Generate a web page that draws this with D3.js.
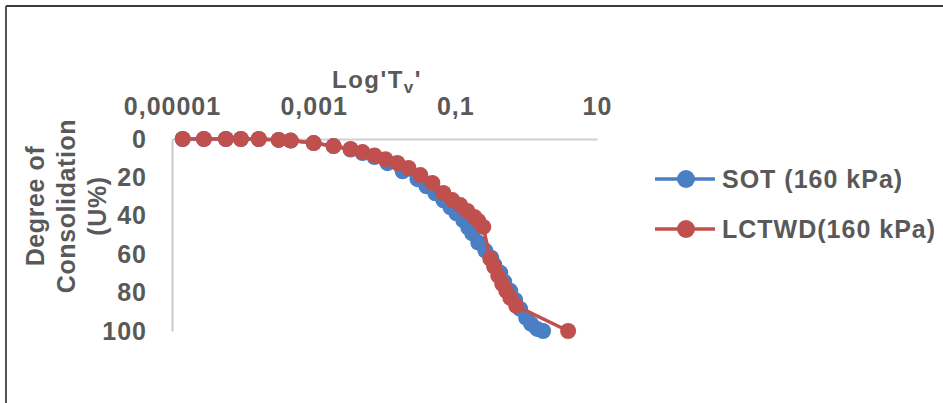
<!DOCTYPE html>
<html>
<head>
<meta charset="utf-8">
<script src="https://cdn.jsdelivr.net/npm/d3@7"></script>
<style>
  body { margin: 0; background: #fff; }
  text { font-family: "Liberation Sans", Arial, sans-serif; font-weight: bold; fill: #595959; }
</style>
</head>
<body>
<div id="chart"></div>
<script>
// time factor Tv (log) and degree of consolidation U%
var sotT = [1.416e-5, 2.82e-5, 5.76e-5, 9.37e-5, 1.68e-4, 3.21e-4, 4.74e-4, 1e-3, 1.91e-3, 3.32e-3,
    4.90e-3, 7.22e-3, 1.10e-2, 1.80e-2, 2.92e-2, 3.91e-2, 5.22e-2, 6.78e-2, 8.51e-2, 0.1033,
    0.1297, 0.1524, 0.1734, 0.211, 0.265, 0.321, 0.354, 0.431, 0.490, 0.596,
    0.700, 0.822, 1.0, 1.175, 1.429, 1.734];
var sotU = [0, 0, 0, 0, 0, 0.5, 0.8, 2.1, 3.7, 5.5,
    7.3, 9.4, 12.6, 16.8, 20.9, 24.6, 28.3, 31.9, 35.6, 38.7,
    42.4, 46.1, 49.2, 53.9, 58.1, 61.8, 65.4, 69.6, 74.3, 79.1,
    83.8, 88.5, 93.2, 96.3, 98.9, 100];

var lctT = [1.416e-5, 2.82e-5, 5.76e-5, 9.37e-5, 1.68e-4, 3.21e-4, 4.74e-4, 1e-3, 1.91e-3, 3.32e-3,
    4.90e-3, 7.22e-3, 1.03e-2, 1.52e-2, 2.18e-2, 3.21e-2, 4.74e-2, 6.78e-2, 9.08e-2, 0.1175,
    0.1476, 0.1854, 0.211, 0.2477, 0.311, 0.354, 0.404, 0.459, 0.523, 0.596,
    0.723, 3.91];
var lctU = [0, 0, 0, 0, 0, 0.5, 0.8, 2.1, 3.7, 5.2,
    6.8, 8.6, 10.5, 12.5, 15.1, 18.8, 22.9, 28.1, 31.8, 34.4,
    37.5, 40.6, 42.7, 45.8, 62.3, 66.5, 71.2, 75.4, 79.1, 82.7,
    86.9, 100];

var xTicks = [0.00001, 0.001, 0.1, 10];
var xTickLabels = ["0,00001", "0,001", "0,1", "10"];
var yTicks = [0, 20, 40, 60, 80, 100];
var seriesNames = ["SOT (160 kPa)", "LCTWD(160 kPa)"];
var seriesColors = ["#4a7fc4", "#c0504d"];

var width = 943, height = 403;

var svg = d3.select("#chart").append("svg")
    .attr("width", width)
    .attr("height", height);

// frame
svg.append("line").attr("x1", 6).attr("x2", width).attr("y1", 6).attr("y2", 6)
    .attr("stroke", "#3a3a3a").attr("stroke-width", 2);
svg.append("line").attr("x1", 6).attr("x2", 6).attr("y1", 6).attr("y2", height)
    .attr("stroke", "#555").attr("stroke-width", 2);

var x = d3.scaleLog().domain([1e-5, 10]).range([172, 597]);
var y = d3.scaleLinear().domain([0, 100]).range([139, 331]);

// x axis on top
var xAxis = svg.append("g")
    .attr("transform", "translate(0," + y(0) + ")")
    .call(d3.axisTop(x).tickValues(xTicks)
        .tickFormat(function(d, i) { return xTickLabels[i]; })
        .tickSize(0).tickSizeOuter(0).tickPadding(24));
xAxis.select(".domain").attr("stroke", "#d0d0d0").attr("stroke-width", 2);
xAxis.selectAll("text").style("font-size", "25px").style("letter-spacing", "1px")
    .attr("fill", "#595959");

// y axis
var yAxis = svg.append("g")
    .attr("transform", "translate(" + x(1e-5) + ",0)")
    .call(d3.axisLeft(y).tickValues(yTicks).tickSize(0).tickSizeOuter(0).tickPadding(25));
yAxis.select(".domain").attr("stroke", "#c8c8c8").attr("stroke-width", 2);
yAxis.selectAll("text").style("font-size", "25px").style("letter-spacing", "1px")
    .attr("fill", "#595959");

// axis titles
var xt = svg.append("text")
    .attr("x", 377).attr("y", 88)
    .attr("text-anchor", "middle")
    .style("font-size", "24px")
    .style("letter-spacing", "1.5px");
xt.append("tspan").text("Log'T");
xt.append("tspan").attr("dy", 5).style("font-size", "17px").text("v");
xt.append("tspan").attr("dy", -5).text("'");

var yTitle = ["Degree of", "Consolidation", "(U%)"];
svg.append("g")
    .attr("transform", "translate(0,206) rotate(-90)")
    .selectAll("text")
    .data(yTitle)
    .enter().append("text")
    .attr("x", 0)
    .attr("y", function(d, i) { return 35 + i * 31; })
    .attr("dy", "0.35em")
    .attr("text-anchor", "middle")
    .style("font-size", "25px")
    .style("letter-spacing", "0.6px")
    .text(function(d) { return d; });

// series
var series = [
    { t: sotT, u: sotU },
    { t: lctT, u: lctU }
];

var line = d3.line()
    .x(function(d) { return x(d[0]); })
    .y(function(d) { return y(d[1]); });

series.forEach(function(s, k) {
    var pts = s.t.map(function(t, i) { return [t, s.u[i]]; });
    svg.append("path")
        .datum(pts)
        .attr("fill", "none")
        .attr("stroke", seriesColors[k])
        .attr("stroke-width", 3.5)
        .attr("d", line);
    svg.append("g").selectAll("circle")
        .data(pts)
        .enter().append("circle")
        .attr("cx", function(d) { return x(d[0]); })
        .attr("cy", function(d) { return y(d[1]); })
        .attr("r", 8)
        .attr("fill", seriesColors[k]);
});

// legend
var legend = svg.append("g").selectAll("g")
    .data(seriesNames)
    .enter().append("g")
    .attr("transform", function(d, i) { return "translate(655," + (179 + i * 50) + ")"; });
legend.append("line")
    .attr("x1", 0).attr("x2", 60)
    .attr("stroke", function(d, i) { return seriesColors[i]; })
    .attr("stroke-width", 3.5);
legend.append("circle")
    .attr("cx", 31).attr("r", 9)
    .attr("fill", function(d, i) { return seriesColors[i]; });
legend.append("text")
    .attr("x", 67).attr("dy", "0.36em")
    .style("font-size", "25px")
    .style("letter-spacing", "1px")
    .text(function(d) { return d; });
</script>
</body>
</html>
